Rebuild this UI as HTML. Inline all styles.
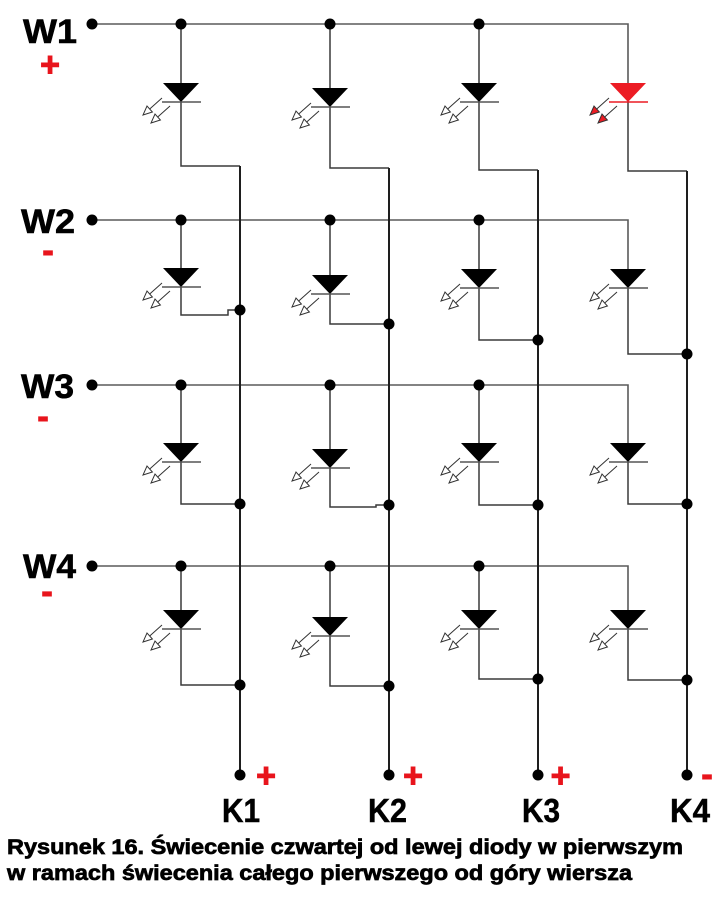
<!DOCTYPE html>
<html><head><meta charset="utf-8"><style>
html,body{margin:0;padding:0;background:#fff;}
svg{display:block;}
text{font-family:"Liberation Sans",sans-serif;font-weight:bold;}
</style></head><body>
<svg width="728" height="900" viewBox="0 0 728 900" xmlns="http://www.w3.org/2000/svg">
<rect width="728" height="900" fill="#fff"/>
<!-- row lines -->
<g stroke="#5a5a5a" stroke-width="1.6" fill="none">
<path d="M92 24 H628 V83"/>
<path d="M92 220 H628 V270"/>
<path d="M92 385 H628 V444"/>
<path d="M92 566 H628 V611"/>
</g>
<!-- diode columns wires -->
<g stroke="#3a3a3a" stroke-width="1.5" fill="none">
<path d="M181 24 V166 H240"/>
<path d="M330 24 V168 H389"/>
<path d="M479 24 V170 H538"/>
<path d="M628 83 V171 H687"/>
<path d="M181 220 V315 H228 V310 H240"/>
<path d="M330 220 V324 H389"/>
<path d="M479 220 V340 H538"/>
<path d="M628 270 V354 H687"/>
<path d="M181 385 V504 H240"/>
<path d="M330 385 V507 H376 V505 H389"/>
<path d="M479 385 V505 H538"/>
<path d="M628 444 V504 H687"/>
<path d="M181 566 V685 H240"/>
<path d="M330 566 V686 H389"/>
<path d="M479 566 V679 H538"/>
<path d="M628 611 V680 H687"/>
</g>
<!-- K lines -->
<g stroke="#1e1e1e" stroke-width="2" fill="none">
<path d="M240 166 V775"/>
<path d="M389 168 V775"/>
<path d="M538 170 V775"/>
<path d="M687 171 V775"/>
</g>
<!-- dots -->
<g fill="#000">
<circle cx="92" cy="24" r="5.5"/><circle cx="181" cy="24" r="5.5"/><circle cx="330" cy="24" r="5.5"/><circle cx="479" cy="24" r="5.5"/>
<circle cx="92" cy="220" r="5.5"/><circle cx="181" cy="220" r="5.5"/><circle cx="330" cy="220" r="5.5"/><circle cx="479" cy="220" r="5.5"/>
<circle cx="92" cy="385" r="5.5"/><circle cx="181" cy="385" r="5.5"/><circle cx="330" cy="385" r="5.5"/><circle cx="479" cy="385" r="5.5"/>
<circle cx="92" cy="566" r="5.5"/><circle cx="181" cy="566" r="5.5"/><circle cx="330" cy="566" r="5.5"/><circle cx="479" cy="566" r="5.5"/>
<circle cx="240" cy="310" r="5.5"/><circle cx="389" cy="324" r="5.5"/><circle cx="538" cy="340" r="5.5"/><circle cx="687" cy="354" r="5.5"/>
<circle cx="240" cy="504" r="5.5"/><circle cx="389" cy="505" r="5.5"/><circle cx="538" cy="505" r="5.5"/><circle cx="687" cy="504" r="5.5"/>
<circle cx="240" cy="685" r="5.5"/><circle cx="389" cy="686" r="5.5"/><circle cx="538" cy="679" r="5.5"/><circle cx="687" cy="680" r="5.5"/>
<circle cx="240" cy="775" r="5.5"/><circle cx="389" cy="775" r="5.5"/><circle cx="538" cy="775" r="5.5"/><circle cx="687" cy="775" r="5.5"/>
</g>
<!-- black diodes -->
<g id="diodes">
<g transform="translate(181,102)"><polygon points="-18,-19 18,-19 0,0" fill="#000"/><line x1="-19" y1="0" x2="20" y2="0" stroke="#555" stroke-width="1.5"/><path d="M-19,-4 L-31.3,7 M-11,4 L-23.3,15" stroke="#333" stroke-width="1"/><polygon points="-38,13 -28.6,10 -34,4" fill="#fff" stroke="#333" stroke-width="1"/><polygon points="-30,21 -20.6,18 -26,12" fill="#fff" stroke="#333" stroke-width="1"/></g>
<g transform="translate(330,107)"><polygon points="-18,-19 18,-19 0,0" fill="#000"/><line x1="-19" y1="0" x2="20" y2="0" stroke="#555" stroke-width="1.5"/><path d="M-19,-4 L-31.3,7 M-11,4 L-23.3,15" stroke="#333" stroke-width="1"/><polygon points="-38,13 -28.6,10 -34,4" fill="#fff" stroke="#333" stroke-width="1"/><polygon points="-30,21 -20.6,18 -26,12" fill="#fff" stroke="#333" stroke-width="1"/></g>
<g transform="translate(479,102)"><polygon points="-18,-19 18,-19 0,0" fill="#000"/><line x1="-19" y1="0" x2="20" y2="0" stroke="#555" stroke-width="1.5"/><path d="M-19,-4 L-31.3,7 M-11,4 L-23.3,15" stroke="#333" stroke-width="1"/><polygon points="-38,13 -28.6,10 -34,4" fill="#fff" stroke="#333" stroke-width="1"/><polygon points="-30,21 -20.6,18 -26,12" fill="#fff" stroke="#333" stroke-width="1"/></g>

<g transform="translate(181,287)"><polygon points="-18,-19 18,-19 0,0" fill="#000"/><line x1="-19" y1="0" x2="20" y2="0" stroke="#555" stroke-width="1.5"/><path d="M-19,-4 L-31.3,7 M-11,4 L-23.3,15" stroke="#333" stroke-width="1"/><polygon points="-38,13 -28.6,10 -34,4" fill="#fff" stroke="#333" stroke-width="1"/><polygon points="-30,21 -20.6,18 -26,12" fill="#fff" stroke="#333" stroke-width="1"/></g>
<g transform="translate(330,294)"><polygon points="-18,-19 18,-19 0,0" fill="#000"/><line x1="-19" y1="0" x2="20" y2="0" stroke="#555" stroke-width="1.5"/><path d="M-19,-4 L-31.3,7 M-11,4 L-23.3,15" stroke="#333" stroke-width="1"/><polygon points="-38,13 -28.6,10 -34,4" fill="#fff" stroke="#333" stroke-width="1"/><polygon points="-30,21 -20.6,18 -26,12" fill="#fff" stroke="#333" stroke-width="1"/></g>
<g transform="translate(479,288)"><polygon points="-18,-19 18,-19 0,0" fill="#000"/><line x1="-19" y1="0" x2="20" y2="0" stroke="#555" stroke-width="1.5"/><path d="M-19,-4 L-31.3,7 M-11,4 L-23.3,15" stroke="#333" stroke-width="1"/><polygon points="-38,13 -28.6,10 -34,4" fill="#fff" stroke="#333" stroke-width="1"/><polygon points="-30,21 -20.6,18 -26,12" fill="#fff" stroke="#333" stroke-width="1"/></g>
<g transform="translate(628,288)"><polygon points="-18,-19 18,-19 0,0" fill="#000"/><line x1="-19" y1="0" x2="20" y2="0" stroke="#555" stroke-width="1.5"/><path d="M-19,-4 L-31.3,7 M-11,4 L-23.3,15" stroke="#333" stroke-width="1"/><polygon points="-38,13 -28.6,10 -34,4" fill="#fff" stroke="#333" stroke-width="1"/><polygon points="-30,21 -20.6,18 -26,12" fill="#fff" stroke="#333" stroke-width="1"/></g>

<g transform="translate(181,462)"><polygon points="-18,-19 18,-19 0,0" fill="#000"/><line x1="-19" y1="0" x2="20" y2="0" stroke="#555" stroke-width="1.5"/><path d="M-19,-4 L-31.3,7 M-11,4 L-23.3,15" stroke="#333" stroke-width="1"/><polygon points="-38,13 -28.6,10 -34,4" fill="#fff" stroke="#333" stroke-width="1"/><polygon points="-30,21 -20.6,18 -26,12" fill="#fff" stroke="#333" stroke-width="1"/></g>
<g transform="translate(330,468)"><polygon points="-18,-19 18,-19 0,0" fill="#000"/><line x1="-19" y1="0" x2="20" y2="0" stroke="#555" stroke-width="1.5"/><path d="M-19,-4 L-31.3,7 M-11,4 L-23.3,15" stroke="#333" stroke-width="1"/><polygon points="-38,13 -28.6,10 -34,4" fill="#fff" stroke="#333" stroke-width="1"/><polygon points="-30,21 -20.6,18 -26,12" fill="#fff" stroke="#333" stroke-width="1"/></g>
<g transform="translate(479,462)"><polygon points="-18,-19 18,-19 0,0" fill="#000"/><line x1="-19" y1="0" x2="20" y2="0" stroke="#555" stroke-width="1.5"/><path d="M-19,-4 L-31.3,7 M-11,4 L-23.3,15" stroke="#333" stroke-width="1"/><polygon points="-38,13 -28.6,10 -34,4" fill="#fff" stroke="#333" stroke-width="1"/><polygon points="-30,21 -20.6,18 -26,12" fill="#fff" stroke="#333" stroke-width="1"/></g>
<g transform="translate(628,462)"><polygon points="-18,-19 18,-19 0,0" fill="#000"/><line x1="-19" y1="0" x2="20" y2="0" stroke="#555" stroke-width="1.5"/><path d="M-19,-4 L-31.3,7 M-11,4 L-23.3,15" stroke="#333" stroke-width="1"/><polygon points="-38,13 -28.6,10 -34,4" fill="#fff" stroke="#333" stroke-width="1"/><polygon points="-30,21 -20.6,18 -26,12" fill="#fff" stroke="#333" stroke-width="1"/></g>

<g transform="translate(181,629)"><polygon points="-18,-19 18,-19 0,0" fill="#000"/><line x1="-19" y1="0" x2="20" y2="0" stroke="#555" stroke-width="1.5"/><path d="M-19,-4 L-31.3,7 M-11,4 L-23.3,15" stroke="#333" stroke-width="1"/><polygon points="-38,13 -28.6,10 -34,4" fill="#fff" stroke="#333" stroke-width="1"/><polygon points="-30,21 -20.6,18 -26,12" fill="#fff" stroke="#333" stroke-width="1"/></g>
<g transform="translate(330,636)"><polygon points="-18,-19 18,-19 0,0" fill="#000"/><line x1="-19" y1="0" x2="20" y2="0" stroke="#555" stroke-width="1.5"/><path d="M-19,-4 L-31.3,7 M-11,4 L-23.3,15" stroke="#333" stroke-width="1"/><polygon points="-38,13 -28.6,10 -34,4" fill="#fff" stroke="#333" stroke-width="1"/><polygon points="-30,21 -20.6,18 -26,12" fill="#fff" stroke="#333" stroke-width="1"/></g>
<g transform="translate(479,629)"><polygon points="-18,-19 18,-19 0,0" fill="#000"/><line x1="-19" y1="0" x2="20" y2="0" stroke="#555" stroke-width="1.5"/><path d="M-19,-4 L-31.3,7 M-11,4 L-23.3,15" stroke="#333" stroke-width="1"/><polygon points="-38,13 -28.6,10 -34,4" fill="#fff" stroke="#333" stroke-width="1"/><polygon points="-30,21 -20.6,18 -26,12" fill="#fff" stroke="#333" stroke-width="1"/></g>
<g transform="translate(628,629)"><polygon points="-18,-19 18,-19 0,0" fill="#000"/><line x1="-19" y1="0" x2="20" y2="0" stroke="#555" stroke-width="1.5"/><path d="M-19,-4 L-31.3,7 M-11,4 L-23.3,15" stroke="#333" stroke-width="1"/><polygon points="-38,13 -28.6,10 -34,4" fill="#fff" stroke="#333" stroke-width="1"/><polygon points="-30,21 -20.6,18 -26,12" fill="#fff" stroke="#333" stroke-width="1"/></g>
</g>
<!-- red diode -->
<g transform="translate(628,102)"><polygon points="-18,-19 18,-19 0,0" fill="#ec1c24"/><line x1="-19" y1="0" x2="20" y2="0" stroke="#ec1c24" stroke-width="1.5"/><path d="M-19,-4 L-31.3,7 M-11,4 L-23.3,15" stroke="#333" stroke-width="1"/><polygon points="-38,13 -28.6,10 -34,4" fill="#ec1c24" stroke="#333" stroke-width="1"/><polygon points="-30,21 -20.6,18 -26,12" fill="#ec1c24" stroke="#333" stroke-width="1"/></g>

<!-- labels -->
<g fill="#000" stroke="#000" stroke-width="0.6" font-size="34">
<text x="23" y="43" textLength="54" lengthAdjust="spacingAndGlyphs">W1</text>
<text x="21" y="233" textLength="54" lengthAdjust="spacingAndGlyphs">W2</text>
<text x="21" y="398" textLength="53" lengthAdjust="spacingAndGlyphs">W3</text>
<text x="23" y="578" textLength="53" lengthAdjust="spacingAndGlyphs">W4</text>
</g>
<g fill="#000" stroke="#000" stroke-width="0.5" font-size="33">
<text x="222" y="822" textLength="38" lengthAdjust="spacingAndGlyphs">K1</text>
<text x="368" y="822" textLength="39" lengthAdjust="spacingAndGlyphs">K2</text>
<text x="522" y="822" textLength="38" lengthAdjust="spacingAndGlyphs">K3</text>
<text x="670" y="822" textLength="40" lengthAdjust="spacingAndGlyphs">K4</text>
</g>
<g fill="#e8141c" stroke="#e8141c" stroke-width="1" font-size="34" text-anchor="middle">
<text x="50" y="76">+</text>
<text x="48" y="262">-</text>
<text x="43" y="428">-</text>
<text x="47" y="603">-</text>
<text x="266" y="787">+</text>
<text x="413" y="787">+</text>
<text x="560.5" y="787">+</text>
<text x="707" y="786">-</text>
</g>
<g fill="#000" stroke="#000" stroke-width="0.7" font-size="21">
<text x="7" y="854" textLength="676" lengthAdjust="spacingAndGlyphs">Rysunek 16. Świecenie czwartej od lewej diody w pierwszym</text>
<text x="7" y="880" textLength="625" lengthAdjust="spacingAndGlyphs">w ramach świecenia całego pierwszego od góry wiersza</text>
</g>
</svg>
</body></html>
